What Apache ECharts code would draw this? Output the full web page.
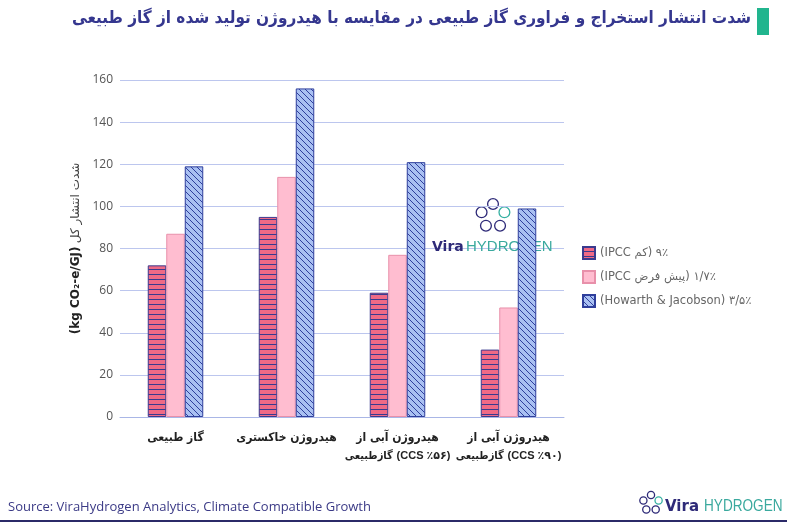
<!DOCTYPE html>
<html>
<head>
<meta charset="utf-8">
<script src="https://cdn.jsdelivr.net/npm/echarts@6/dist/echarts.min.js"></script>
<style>html,body{margin:0;padding:0;background:#fff}#c{width:787px;height:524px}</style>
</head>
<body>
<div id="c"></div>
<script>
const categories = ['گاز طبیعی', 'هیدروژن خاکستری', 'هیدروژن آبی از\nگازطبیعی|(CCS ٪۵۶)', 'هیدروژن آبی از\nگازطبیعی|(CCS ٪۹۰)'];
const seriesNames = ['(IPCC کم) ۹٪', '(IPCC پیش فرض) ۱/۷٪', '(Howarth & Jacobson) ۳/۵٪'];
const ipccLow = [72, 95, 59, 32];
const ipccDefault = [87, 114, 77, 52];
const howarth = [119, 156, 121, 99];
const yTicks = [0, 20, 40, 60, 80, 100, 120, 140, 160];

const FA = '"DejaVu Sans Condensed", "DejaVu Sans", sans-serif';
const NAVY = '#35378f';

function makePattern(kind) {
  const c = document.createElement('canvas');
  if (kind === 'h') {
    c.width = 8; c.height = 5;
    const g = c.getContext('2d');
    g.fillStyle = '#ef6a86'; g.fillRect(0, 0, 8, 5);
    g.fillStyle = '#3a3a8e'; g.fillRect(0, 4, 8, 1);
  } else {
    c.width = 6; c.height = 6;
    const g = c.getContext('2d');
    g.fillStyle = '#a9c0f2'; g.fillRect(0, 0, 6, 6);
    g.strokeStyle = '#2f3f9c'; g.lineWidth = 1;
    g.beginPath();
    g.moveTo(-1, -1); g.lineTo(7, 7);
    g.moveTo(-4, 2); g.lineTo(4, 10);
    g.moveTo(2, -4); g.lineTo(10, 4);
    g.stroke();
  }
  return { image: c, repeat: 'repeat' };
}

const chart = echarts.init(document.getElementById('c'), null, { renderer: 'canvas' });

function logoIcon(cx, cy, r, sc) {
  const ch = [];
  for (let i = 0; i < 5; i++) {
    const a = -Math.PI / 2 + i * 2 * Math.PI / 5;
    ch.push({ type: 'circle', shape: { cx: cx + r * Math.cos(a), cy: cy + r * Math.sin(a), r: r * 0.45 },
      style: { fill: 'none', stroke: i === 1 ? '#36b0a2' : '#2e2a78', lineWidth: sc } });
  }
  return ch;
}

function xLabel(v) {
  return v.split('\n').map(line => {
    const p = line.split('|');
    return p.length > 1 ? '{s|' + p[0] + '} {c|' + p[1] + '}' : '{a|' + line + '}';
  }).join('\n');
}

chart.setOption({
  backgroundColor: '#ffffff',
  animation: false,
  grid: { left: 120, right: 223, top: 80, bottom: 107, containLabel: false },
  legend: {
    orient: 'vertical', left: 577, top: 241, itemWidth: 12, itemHeight: 12, itemGap: 10,
    selectedMode: false, icon: 'rect',
    textStyle: { color: '#666', fontSize: 11.5, fontFamily: '"DejaVu Sans", sans-serif' },
    data: seriesNames
  },
  xAxis: {
    type: 'category', data: categories,
    axisLine: { lineStyle: { color: '#a9b6e6', width: 1 } },
    axisTick: { show: false },
    axisLabel: { interval: 0, margin: 12, color: '#222', fontWeight: 'bold', fontSize: 12, lineHeight: 18, fontFamily: FA,
      formatter: xLabel,
      rich: {
        a: { color: '#222', fontWeight: 'bold', fontSize: 12, lineHeight: 18, fontFamily: FA },
        s: { color: '#222', fontWeight: 'bold', fontSize: 11, lineHeight: 18, fontFamily: FA },
        c: { color: '#222', fontWeight: 'bold', fontSize: 11, lineHeight: 18, fontFamily: '"Liberation Sans", "DejaVu Sans", sans-serif' }
      } }
  },
  yAxis: {
    type: 'value', min: 0, max: 160, interval: 20,
    name: '{b|(kg CO₂-e/GJ)} {n|شدت انتشار کل}',
    nameLocation: 'middle', nameGap: 33, nameRotate: 90,
    nameTextStyle: {
      rich: {
        b: { fontWeight: 'bold', fontSize: 12, color: '#222', fontFamily: '"DejaVu Sans", sans-serif' },
        n: { fontSize: 12, color: '#444', fontFamily: '"DejaVu Sans", sans-serif' }
      }
    },
    axisLine: { show: false }, axisTick: { show: false },
    axisLabel: { color: '#555', fontSize: 12, margin: 7, fontFamily: '"Open Sans", sans-serif',
      formatter: v => yTicks.indexOf(v) >= 0 ? String(v) : '' },
    splitLine: { lineStyle: { color: '#bcc6ee', width: 1 } }
  },
  series: [
    { name: seriesNames[0], type: 'bar', data: ipccLow, barWidth: 18.5, barGap: '0%',
      itemStyle: { color: makePattern('h'), borderColor: '#3a3a8e', borderWidth: 1 } },
    { name: seriesNames[1], type: 'bar', data: ipccDefault, barWidth: 18.5, barGap: '0%',
      itemStyle: { color: '#ffbdd0', borderColor: '#e890aa', borderWidth: 1 } },
    { name: seriesNames[2], type: 'bar', data: howarth, barWidth: 18.5, barGap: '0%',
      itemStyle: { color: makePattern('d'), borderColor: '#2f3f9c', borderWidth: 1 } }
  ],
  graphic: [
    { type: 'text', right: 36, top: 10, style: { text: 'شدت انتشار استخراج و فراوری گاز طبیعی در مقایسه با هیدروژن تولید شده از گاز طبیعی',
      fill: NAVY, font: 'bold 17px ' + FA } },
    { type: 'rect', shape: { x: 757, y: 8, width: 12, height: 27 }, style: { fill: '#21b58e' } },
    { type: 'text', left: 8, top: 501, style: { text: 'Source: ViraHydrogen Analytics, Climate Compatible Growth',
      fill: '#3b3a86', font: '13px "Open Sans", sans-serif' } },
    { type: 'rect', shape: { x: 0, y: 520, width: 787, height: 2 }, style: { fill: '#2b2a68' } },
    { type: 'group', children: logoIcon(651, 503, 8, 1.3) },
    { type: 'text', x: 665, y: 500, style: { text: 'Vira', fill: '#2e2a78', font: 'bold 15px "DejaVu Sans", sans-serif' } },
    { type: 'text', x: 704, y: 499, scaleX: 0.85, style: { text: 'HYDROGEN', fill: '#3aa99e', font: '16px "Liberation Sans", sans-serif' } },
    { type: 'group', z: 1, children: logoIcon(493, 216, 12, 1.3) },
    { type: 'text', z: 1, left: 432, top: 240, style: { text: 'Vira', fill: '#2e2a78', font: 'bold 14px "DejaVu Sans", sans-serif' } },
    { type: 'text', z: 1, left: 466, top: 239, style: { text: 'HYDROGEN', fill: '#3aa99e', font: '15px "Liberation Sans", sans-serif' } }
  ]
});
</script>
</body>
</html>
